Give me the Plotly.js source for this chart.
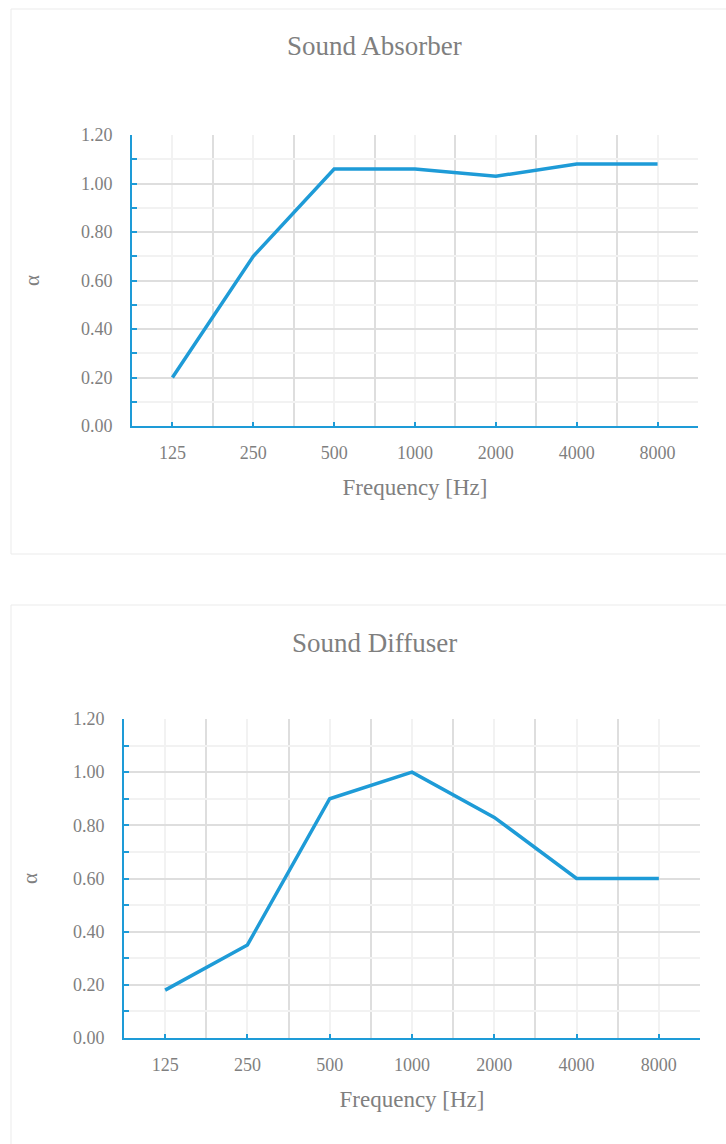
<!DOCTYPE html>
<html>
<head>
<meta charset="utf-8">
<script src="https://cdn.plot.ly/plotly-3.0.1.min.js"></script>
<style>
  html, body { margin: 0; padding: 0; background: #ffffff; }
  #chart { width: 726px; height: 1144px; }
</style>
</head>
<body>
<div id="chart"></div>
<script>
// ---- data ----
const categories = ['125', '250', '500', '1000', '2000', '4000', '8000'];
const absorberValues = [0.20, 0.70, 1.06, 1.06, 1.03, 1.08, 1.08];
const diffuserValues = [0.18, 0.35, 0.90, 1.00, 0.83, 0.60, 0.60];
const chartTitles = ['Sound Absorber', 'Sound Diffuser'];
const xTitle = 'Frequency [Hz]';
const yTitle = 'α';

// ---- styling ----
const W = 726, H = 1144;
const FONT = 'Liberation Serif, Times New Roman, serif';
const TEXT = '#7f7f7f';
const BLUE = '#1E9BD7';
const GRID_MAJOR = '#dedede';
const GRID_MINOR = '#f2f2f2';

const xIdx = categories.map((_, i) => i);
const boundaries = categories.map((_, i) => i + 0.5);
boundaries.unshift(-0.5);

function px(x) { return x / W; }
function py(y) { return 1 - y / H; }

function xaxisDef(left, right) {
  return {
    domain: [px(left), px(right)],
    range: [-0.5, categories.length - 0.5],
    tickmode: 'array',
    tickvals: xIdx,
    ticktext: categories,
    ticks: 'inside', ticklen: 4, tickwidth: 2, tickcolor: BLUE,
    showgrid: true, gridcolor: GRID_MINOR, gridwidth: 2,
    minor: { tickmode: 'array', tickvals: boundaries, showgrid: true, gridcolor: GRID_MAJOR, gridwidth: 2, ticks: '' },
    showline: true, linecolor: BLUE, linewidth: 2,
    zeroline: false,
    fixedrange: true,
    automargin: false,
    ticklabelstandoff: 9,
    tickfont: { family: FONT, size: 18, color: TEXT },
    title: { text: xTitle, standoff: 17, font: { family: FONT, size: 23, color: TEXT } }
  };
}
function yaxisDef(bottom, top, standoff) {
  return {
    domain: [py(bottom), py(top)],
    range: [0, 1.2],
    tick0: 0, dtick: 0.2,
    tickformat: '.2f',
    ticks: 'inside', ticklen: 5, tickwidth: 2, tickcolor: BLUE,
    showgrid: true, gridcolor: GRID_MAJOR, gridwidth: 2,
    minor: { dtick: 0.1, showgrid: true, gridcolor: GRID_MINOR, gridwidth: 2, ticks: 'inside', ticklen: 5, tickwidth: 2, tickcolor: BLUE },
    showline: true, linecolor: BLUE, linewidth: 2,
    zeroline: false,
    fixedrange: true,
    automargin: false,
    ticklabelstandoff: 14,
    tickfont: { family: FONT, size: 18, color: TEXT },
    title: { text: yTitle, standoff: standoff, font: { family: FONT, size: 21, color: TEXT } }
  };
}

const traces = [
  { x: xIdx, y: absorberValues, xaxis: 'x', yaxis: 'y', type: 'scatter', mode: 'lines',
    line: { color: BLUE, width: 3.5 }, name: chartTitles[0], hoverinfo: 'y' },
  { x: xIdx, y: diffuserValues, xaxis: 'x2', yaxis: 'y2', type: 'scatter', mode: 'lines',
    line: { color: BLUE, width: 3.5 }, name: chartTitles[1], hoverinfo: 'y' }
];

const layout = {
  width: W, height: H,
  margin: { l: 0, r: 0, t: 0, b: 0 },
  paper_bgcolor: '#ffffff',
  plot_bgcolor: 'rgba(0,0,0,0)',
  showlegend: false,
  font: { family: FONT, color: TEXT },
  xaxis: xaxisDef(132, 698),
  yaxis: yaxisDef(426, 135, 36),
  xaxis2: Object.assign(xaxisDef(124, 700), { anchor: 'y2' }),
  yaxis2: Object.assign(yaxisDef(1038, 719, 30), { anchor: 'x2' }),
  shapes: [
    { type: 'rect', xref: 'paper', yref: 'paper', x0: px(11), x1: px(740), y0: py(554), y1: py(9),
      line: { color: '#ebebeb', width: 1 }, fillcolor: 'rgba(0,0,0,0)', layer: 'below' },
    { type: 'rect', xref: 'paper', yref: 'paper', x0: px(11), x1: px(740), y0: py(1160), y1: py(605),
      line: { color: '#ebebeb', width: 1 }, fillcolor: 'rgba(0,0,0,0)', layer: 'below' }
  ],
  annotations: [
    { text: chartTitles[0], xref: 'paper', yref: 'paper', x: px(374), y: py(46), xanchor: 'center', yanchor: 'middle',
      showarrow: false, font: { family: FONT, size: 27, color: TEXT } },
    { text: chartTitles[1], xref: 'paper', yref: 'paper', x: px(375), y: py(643), xanchor: 'center', yanchor: 'middle',
      showarrow: false, font: { family: FONT, size: 27, color: TEXT } }
  ]
};

layout.xaxis.anchor = 'y';
layout.yaxis.anchor = 'x';

Plotly.newPlot('chart', traces, layout, { displayModeBar: false, staticPlot: true });
</script>
</body>
</html>
